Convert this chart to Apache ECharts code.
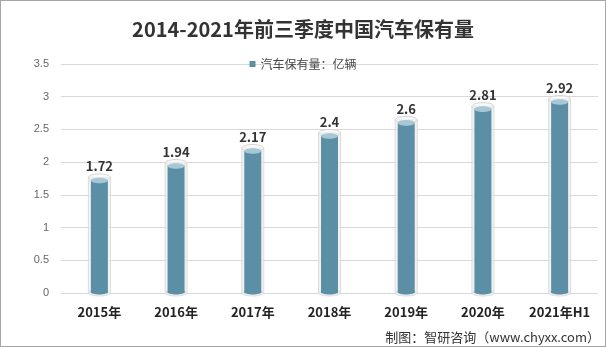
<!DOCTYPE html>
<html><head><meta charset="utf-8">
<script src="https://cdn.jsdelivr.net/npm/echarts@6/dist/echarts.min.js"></script>
<style>html,body{margin:0;padding:0;background:#fff}#c{width:606px;height:347px;box-sizing:border-box;border:1px solid #a6a6a6}</style>
</head><body><div id="c"></div>
<script>
const categories = ['2015年','2016年','2017年','2018年','2019年','2020年','2021年H1'];
const values = [1.72, 1.94, 2.17, 2.4, 2.6, 2.81, 2.92];
const yTicks = [0, 0.5, 1, 1.5, 2, 2.5, 3, 3.5];

const chart = echarts.init(document.getElementById('c'), null, {renderer:'canvas'});
const barColor = '#5a8fa6';
function renderItem(params, api){
  const v = api.value(1);
  const top = api.coord([api.value(0), v]);
  const bot = api.coord([api.value(0), 0]);
  const cx = top[0];
  const ow = 22, iw = 17;
  const oTop = top[1] - 3;
  return {type:'group', children:[
    {type:'rect', shape:{x:cx-ow/2, y:oTop, width:ow, height:bot[1]-oTop}, style:{fill:'rgba(236,236,236,0.7)', stroke:'#dcdcdc', lineWidth:1}},
    {type:'ellipse', shape:{cx:cx, cy:bot[1], rx:ow/2, ry:3}, style:{fill:'rgba(236,236,236,0.9)', stroke:'#dcdcdc', lineWidth:1}},
    {type:'rect', shape:{x:cx-iw/2, y:top[1], width:iw, height:bot[1]-top[1]}, style:{fill:barColor}},
    {type:'ellipse', shape:{cx:cx, cy:bot[1]-1, rx:iw/2, ry:2.5}, style:{fill:barColor}},
    {type:'ellipse', shape:{cx:cx, cy:oTop, rx:ow/2, ry:3.5}, style:{fill:'rgba(245,245,245,0.6)', stroke:'#d4d4d4', lineWidth:1}},
    {type:'ellipse', shape:{cx:cx, cy:top[1], rx:iw/2, ry:2.8}, style:{fill:'#a7c7d4'}},
    {type:'text', style:{text:String(v), x:cx, y:top[1]-14, align:'center', verticalAlign:'middle', font:'bold 13px "Noto Sans CJK SC", sans-serif', fill:'#333'}}
  ]};
}
chart.setOption({
  animation:false,
  title:{text:'2014-2021年前三季度中国汽车保有量', left:'center', top:13,
    textStyle:{fontSize:20, fontWeight:'bold', color:'#333', fontFamily:'"Noto Sans CJK SC", sans-serif'}},
  legend:{top:52, left:'center', itemWidth:6, itemHeight:6, itemGap:6, icon:'rect',
    textStyle:{fontSize:12, color:'#444', fontFamily:'"Noto Sans CJK SC", sans-serif'},
    data:[{name:'汽车保有量：亿辆', itemStyle:{color:barColor}}]},
  grid:{left:60, right:7, top:63, bottom:53},
  xAxis:{type:'category', data:categories,
    axisLine:{show:false}, axisTick:{show:false},
    axisLabel:{interval:0, fontSize:13, fontWeight:'bold', color:'#222', margin:13, fontFamily:'"Noto Sans CJK SC", sans-serif'}},
  yAxis:{type:'value', min:0, max:3.5, interval:0.5,
    axisLine:{show:false}, axisTick:{show:false},
    splitLine:{lineStyle:{color:'#d9d9d9'}},
    axisLabel:{fontSize:11, color:'#666', margin:12, formatter:v=>yTicks.includes(v)?String(v):''}},
  series:[{type:'custom', name:'汽车保有量：亿辆', itemStyle:{color:barColor},
    renderItem:renderItem, data:categories.map((c,i)=>[i, values[i]])}],
  graphic:[{type:'text', right:5, bottom:2,
    style:{text:'制图：智研咨询（www.chyxx.com）', font:'13px "Noto Sans CJK SC", sans-serif', fill:'#333'}}]
});
</script></body></html>
